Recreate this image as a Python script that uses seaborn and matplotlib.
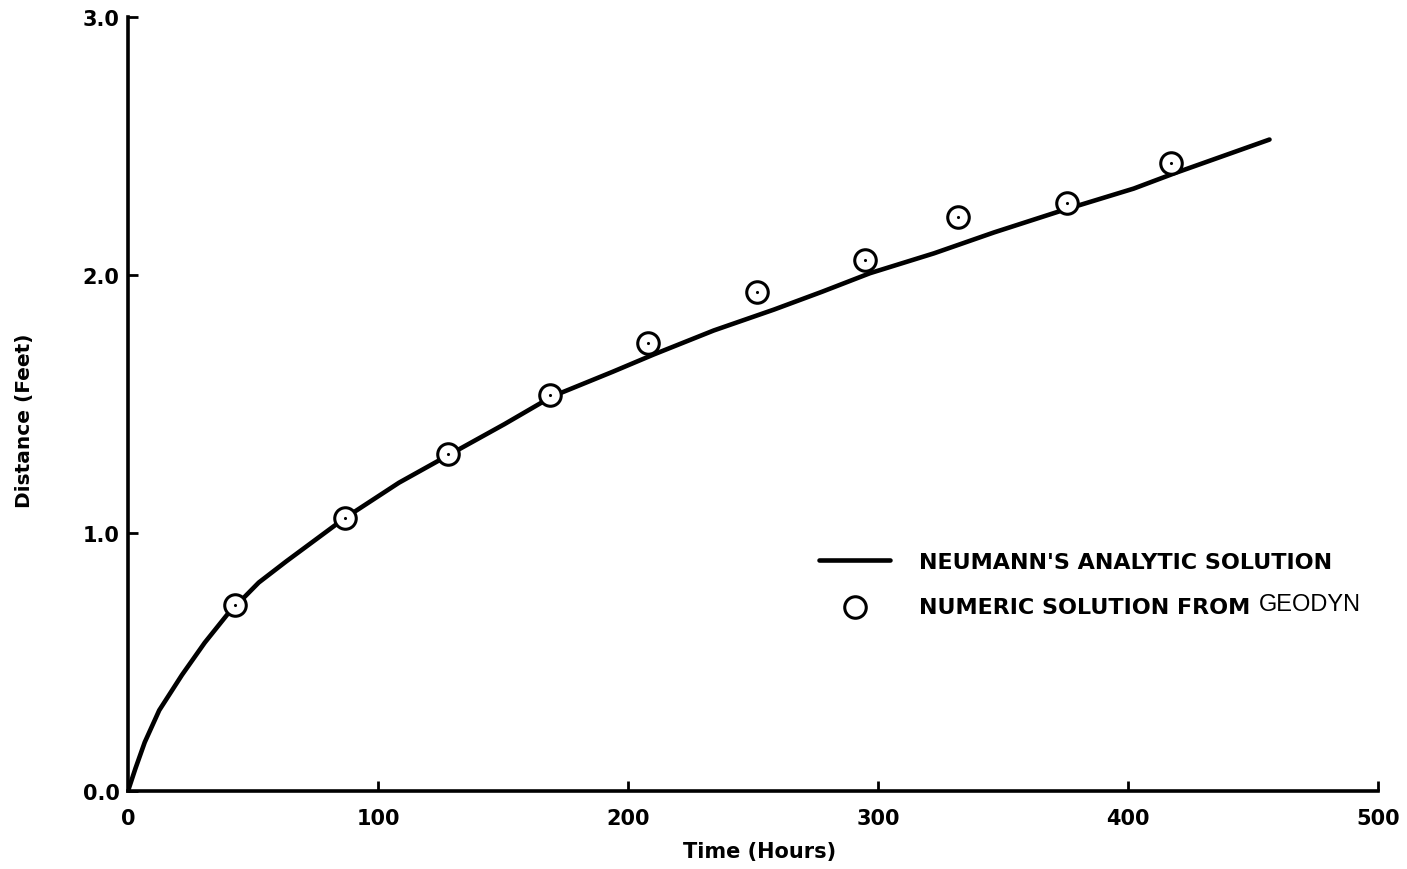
import numpy as np
import pandas as pd
import seaborn as sns
import matplotlib.pyplot as plt

# Neumann analytic solution
line_hours = [0, 3.0, 6.7, 12.5, 21.6, 30.7, 39.8, 52.3, 63.3, 86.6, 108.4, 128.8, 150.6,
              169.6, 193.9, 210.3, 234.3, 258.4, 277.6, 296.8, 322.4, 346.4, 373.6, 402.3,
              418.5, 456.6]
line_feet = [0.0, 0.088, 0.189, 0.313, 0.45, 0.575, 0.685, 0.808, 0.89, 1.057, 1.195, 1.305,
             1.422, 1.529, 1.625, 1.692, 1.785, 1.866, 1.935, 2.007, 2.084, 2.165, 2.25, 2.335,
             2.394, 2.525]

# numeric solution from GEODYN (circles)
geo_hours = [42.6, 86.7, 128, 168.9, 208, 251.6, 294.8, 332, 375.7, 417]
geo_feet = [0.72, 1.057, 1.305, 1.534, 1.738, 1.936, 2.057, 2.223, 2.28, 2.433]

x_ticks = [0, 100, 200, 300, 400, 500]
y_ticks = [0.0, 1.0, 2.0, 3.0]
y_tick_labels = ['0.0', '1.0', '2.0', '3.0']

df_line = pd.DataFrame({'Time': line_hours, 'Distance': line_feet})
df_geo = pd.DataFrame({'Time': geo_hours, 'Distance': geo_feet})

sns.set_style('ticks')
plt.rcParams['font.family'] = ['DejaVu Sans']
plt.rcParams['text.color'] = 'black'
plt.rcParams['axes.labelcolor'] = 'black'
plt.rcParams['xtick.color'] = 'black'
plt.rcParams['ytick.color'] = 'black'
plt.rcParams['axes.edgecolor'] = 'black'

fig = plt.figure(figsize=(14.07, 8.7), dpi=100)
ax = fig.add_axes([128 / 1407, 78 / 870, (1378 - 128) / 1407, (792 - 18) / 870])

sns.lineplot(data=df_line, x='Time', y='Distance', color='black', lw=3.3,
             label="NEUMANN'S ANALYTIC SOLUTION", ax=ax)
sns.scatterplot(data=df_geo, x='Time', y='Distance', marker='o', s=240,
                facecolor='white', edgecolor='black', linewidth=2.2,
                label='NUMERIC SOLUTION FROM', ax=ax, zorder=3)
# small dot in the middle of each circle
sns.scatterplot(data=df_geo, x='Time', y='Distance', marker='o', s=5,
                color='black', linewidth=0, legend=False, ax=ax, zorder=4)

ax.set_xlim(0, 500)
ax.set_ylim(0, 3.0)
ax.set_xticks(x_ticks)
ax.set_xticklabels([str(t) for t in x_ticks])
ax.set_yticks(y_ticks)
ax.set_yticklabels(y_tick_labels)
ax.tick_params(direction='in', length=7, width=2, labelsize=15)
ax.tick_params(axis='x', pad=12)
ax.tick_params(axis='y', pad=6)
for lab in ax.get_xticklabels() + ax.get_yticklabels():
    lab.set_fontweight('bold')

sns.despine(ax=ax)
ax.spines['left'].set_linewidth(2.6)
ax.spines['bottom'].set_linewidth(2.6)

ax.set_xlabel('Time (Hours)', fontsize=15, fontweight='bold')
ax.set_ylabel('Distance (Feet)', fontsize=14.5, fontweight='bold')
ax.xaxis.set_label_coords(0.5056, -0.064)
ax.yaxis.set_label_coords(-0.075, 0.48)

leg = ax.legend(loc='upper left', bbox_to_anchor=(0.537, 0.335), frameon=False,
                prop={'weight': 'bold', 'size': 16}, handlelength=3.2,
                handletextpad=1.3, labelspacing=1.15)

# the word GEODYN is typed in a lighter face in the original
fig.canvas.draw()
bb = leg.get_texts()[1].get_window_extent()
x0, y0 = fig.transFigure.inverted().transform((bb.x1 + 8, (bb.y0 + bb.y1) / 2 + 3))
fig.text(x0, y0, 'GEODYN', fontsize=17, fontweight='normal', va='center', ha='left',
         family='Liberation Sans')

fig.savefig('out.png', dpi=100, facecolor='white')
